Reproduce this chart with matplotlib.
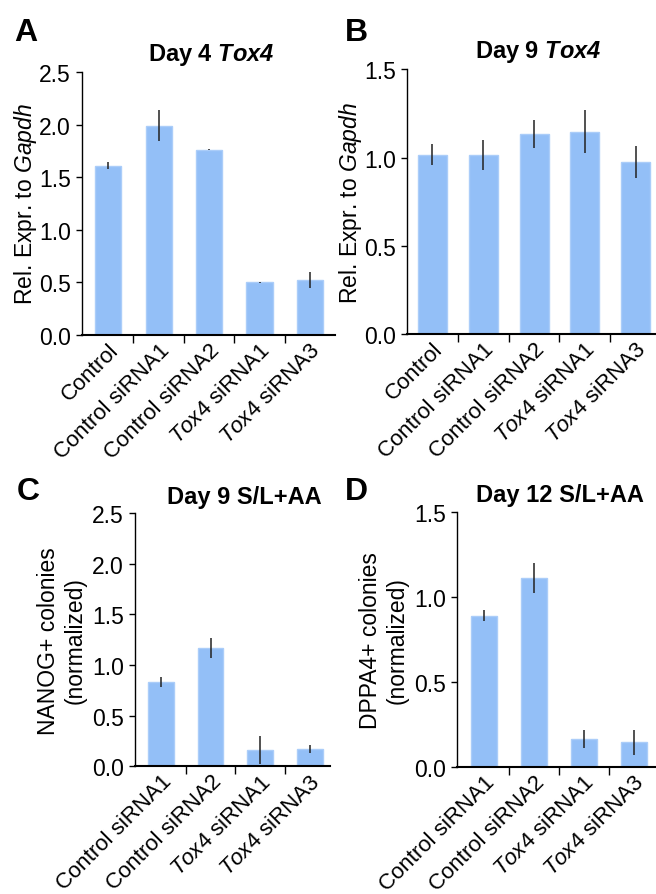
import matplotlib
matplotlib.use("Agg")
import matplotlib.pyplot as plt

plt.rcParams['font.family'] = ['Liberation Sans', 'DejaVu Sans']
plt.rcParams['mathtext.fontset'] = 'custom'
plt.rcParams['mathtext.rm'] = 'Liberation Sans'
plt.rcParams['mathtext.it'] = 'Liberation Sans:italic'
plt.rcParams['mathtext.bf'] = 'Liberation Sans:bold'
plt.rcParams['mathtext.bfit'] = 'Liberation Sans:bold:italic'

# panel A: Day 4 Tox4 qPCR
labels_a = ["Control", "Control siRNA1", "Control siRNA2",
            r"$\it{Tox4}$ siRNA1", r"$\it{Tox4}$ siRNA3"]
vals_a = [1.61, 1.99, 1.76, 0.50, 0.52]
err_a = [0.03, 0.15, 0.005, 0.005, 0.075]

# panel B: Day 9 Tox4 qPCR
labels_b = labels_a
vals_b = [1.015, 1.015, 1.134, 1.147, 0.973]
err_b = [0.06, 0.085, 0.08, 0.12, 0.09]

# panel C: NANOG+ colonies
labels_c = ["Control siRNA1", "Control siRNA2",
            r"$\it{Tox4}$ siRNA1", r"$\it{Tox4}$ siRNA3"]
vals_c = [0.83, 1.166, 0.161, 0.171]
err_c = [0.05, 0.10, 0.137, 0.037]

# panel D: DPPA4+ colonies
labels_d = labels_c
vals_d = [0.888, 1.108, 0.163, 0.143]
err_d = [0.033, 0.088, 0.051, 0.076]

BAR = '#93bff7'
EDGE = '#abcdf9'
FS = 16.5

fig = plt.figure(figsize=(6.56, 8.95), dpi=100)


def panel(rect, labels, vals, errs, ymax, yticks, title, ylabel, letter,
          xlim, width, title_x, letter_pos, ylab_pad):
    ax = fig.add_axes(rect)
    x = list(range(len(vals)))
    ax.bar(x, vals, width=width, color=BAR, edgecolor=EDGE, linewidth=1)
    ax.errorbar(x, vals, yerr=errs, fmt='none', ecolor='#222222',
                elinewidth=1.1, capsize=0)
    ax.set_xlim(*xlim)
    ax.set_ylim(0, ymax)
    ax.set_yticks(yticks)
    ax.set_yticklabels(["%.1f" % t for t in yticks], fontsize=FS)
    ax.set_xticks(x)
    ax.set_xticklabels(labels, rotation=45, ha='right',
                       rotation_mode='anchor', fontsize=16)
    ax.set_xticks([i + 0.5 for i in x[:-1]], minor=True)
    ax.tick_params(axis='x', which='major', length=0, pad=3)
    ax.tick_params(axis='x', which='minor', length=6, width=1, direction='out')
    ax.tick_params(axis='y', length=4, width=1, pad=4)
    for s in ['top', 'right']:
        ax.spines[s].set_visible(False)
    ax.spines['left'].set_linewidth(1)
    ax.spines['bottom'].set_linewidth(1.5)
    ax.set_ylabel(ylabel, fontsize=FS, labelpad=ylab_pad, linespacing=1.2)
    fig.text(title_x, rect[1] + rect[3] + 0.006, title, fontsize=17,
             fontweight='bold', ha='center', va='bottom')
    fig.text(letter_pos[0], letter_pos[1], letter, fontsize=23,
             fontweight='bold', ha='left', va='baseline')
    return ax


panel([0.125, 0.6246, 0.386, 0.2939], labels_a, vals_a, err_a, 2.5,
      [0.0, 0.5, 1.0, 1.5, 2.0, 2.5], r"Day 4 $\mathbfit{Tox4}$",
      r"Rel. Expr. to $\it{Gapdh}$", "A", (-0.52, 4.5), 0.52,
      0.322, (0.022, 0.954), 0)

panel([0.6204, 0.6257, 0.3796, 0.2958], labels_b, vals_b, err_b, 1.5,
      [0.0, 0.5, 1.0, 1.5], r"Day 9 $\mathbfit{Tox4}$",
      r"Rel. Expr. to $\it{Gapdh}$", "B", (-0.5, 4.4), 0.57,
      0.821, (0.525, 0.954), 0)

panel([0.2058, 0.1427, 0.297, 0.2827], labels_c, vals_c, err_c, 2.5,
      [0.0, 0.5, 1.0, 1.5, 2.0, 2.5], "Day 9 S/L+AA",
      "NANOG+ colonies\n(normalized)", "C", (-0.52, 3.4), 0.52,
      0.372, (0.025, 0.441), 4)

panel([0.697, 0.1422, 0.303, 0.2849], labels_d, vals_d, err_d, 1.5,
      [0.0, 0.5, 1.0, 1.5], "Day 12 S/L+AA",
      "DPPA4+ colonies\n(normalized)", "D", (-0.53, 3.45), 0.52,
      0.854, (0.525, 0.441), 4)

fig.savefig("out.png", dpi=100)
